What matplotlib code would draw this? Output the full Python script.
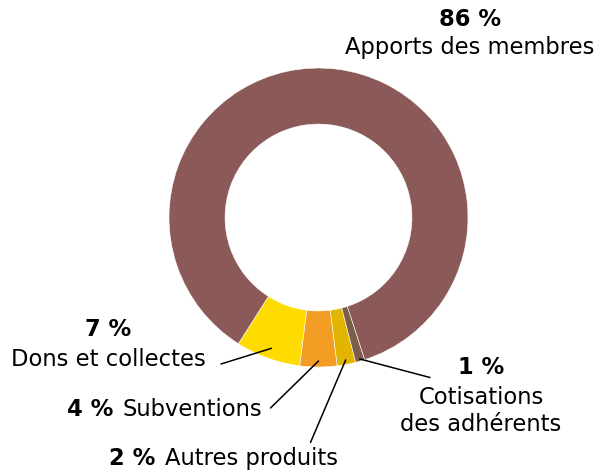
import matplotlib
matplotlib.use("Agg")
import matplotlib.pyplot as plt
import numpy as np

plt.rcParams['font.family'] = ['DejaVu Sans']

# data
labels = ["Dons et collectes", "Subventions", "Autres produits",
          "Cotisations\ndes adhérents", "Apports des membres"]
values = [7, 4, 2, 1, 86]
pct_text = ["7 %", "4 %", "2 %", "1 %", "86 %"]
colors = ["#FFDC00", "#F39C24", "#E1B500", "#7B5E48", "#8B5A58"]

W, H = 598, 472
fig = plt.figure(figsize=(W / 100, H / 100), dpi=100)
ax = fig.add_axes([0, 0, 1, 1])

cx, cy, R = 318.5, H - 217.5, 149.5
wedges, _ = ax.pie(values, colors=colors, startangle=237.6, counterclock=True,
                   center=(cx, cy), radius=R, frame=True,
                   wedgeprops=dict(width=R * 0.375, edgecolor='white', linewidth=0.4))
ax.set_xlim(0, W)
ax.set_ylim(0, H)
ax.set_aspect('equal')
ax.axis('off')

fs = 16.3

# 86 % label (top right)
ax.text(470, H - 19, pct_text[4], fontsize=fs, fontweight='bold', ha='center', va='center')
ax.text(470, H - 47.5, labels[4], fontsize=fs, ha='center', va='center')

# 7 %
ax.text(108, H - 330, pct_text[0], fontsize=fs, fontweight='bold', ha='center', va='center')
ax.text(108, H - 359.5, labels[0], fontsize=fs, ha='center', va='center')

# 4 %
ax.text(113, H - 410, pct_text[1], fontsize=fs, fontweight='bold', ha='right', va='center')
ax.text(122, H - 410, labels[1], fontsize=fs, ha='left', va='center')

# 2 %
ax.text(155, H - 458.5, pct_text[2], fontsize=fs, fontweight='bold', ha='right', va='center')
ax.text(165, H - 458.5, labels[2], fontsize=fs, ha='left', va='center')

# 1 %
ax.text(481, H - 367.5, pct_text[3], fontsize=fs, fontweight='bold', ha='center', va='center')
ax.text(481, H - 411, labels[3], fontsize=fs, ha='center', va='center', linespacing=1.25)

# leader lines from label to wedge
line_starts = [(221, 364), (270.5, 408), (310.5, 442.5), (430, 377.5)]
anchor_r = [0.93, 0.96, 0.97, 0.985]
for i in range(4):
    w = wedges[i]
    ang = np.deg2rad((w.theta1 + w.theta2) / 2)
    px = cx + anchor_r[i] * R * np.cos(ang)
    py = cy + anchor_r[i] * R * np.sin(ang)
    sx, sy = line_starts[i]
    ax.annotate("", xy=(px, py), xytext=(sx, H - sy),
                arrowprops=dict(arrowstyle='-', color='black', lw=1.1,
                                shrinkA=0, shrinkB=0))

fig.savefig("out.png", dpi=100)
